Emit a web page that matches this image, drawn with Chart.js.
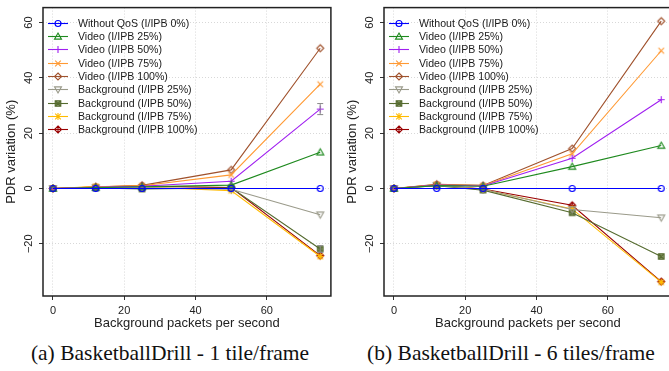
<!DOCTYPE html>
<html>
<head>
<meta charset="utf-8">
<script src="https://cdn.jsdelivr.net/npm/chart.js@4.4.0/dist/chart.umd.min.js"></script>
<style>
  html, body { margin: 0; padding: 0; background: #fff; width: 669px; height: 371px; overflow: hidden; }
  .panel { position: absolute; top: 0; }
  canvas { display: block; }
  .caption {
    position: absolute; top: 341px;
    font-family: 'Liberation Serif', 'Times New Roman', serif;
    font-size: 21.5px; color: #111; white-space: nowrap;
    transform: translateX(-50%);
  }
</style>
</head>
<body>
<div class="panel" style="left:0"><canvas id="chartA" width="335" height="335"></canvas></div>
<div class="panel" style="left:341px"><canvas id="chartB" width="335" height="335"></canvas></div>
<div class="caption" style="left:170px">(a) BasketballDrill - 1 tile/frame</div>
<div class="caption" style="left:511px">(b) BasketballDrill - 6 tiles/frame</div>

<script>
// Shared axis values
const xValues = [0, 12, 25, 50, 75];
const xTicks = [0, 20, 40, 60];
const yTicks = [-20, 0, 20, 40, 60];

const seriesNames = [
    'Without QoS (I/IPB 0%)',
    'Video (I/IPB 25%)',
    'Video (I/IPB 50%)',
    'Video (I/IPB 75%)',
    'Video (I/IPB 100%)',
    'Background (I/IPB 25%)',
    'Background (I/IPB 50%)',
    'Background (I/IPB 75%)',
    'Background (I/IPB 100%)'
];
const seriesColors = ['#0000ff', '#1f8a1f', '#a020f0', '#ff9933', '#a0522d', '#9a9a8a', '#556b2f', '#ffbb00', '#990000'];
const seriesMarkers = ['circle', 'triangle', 'plus', 'cross', 'diamond', 'triangleDown', 'squareX', 'asterisk', 'diamondPlus'];

// (a) BasketballDrill - 1 tile/frame
const noQosA    = [0, 0, 0, 0, 0];
const video25A  = [0, 0.3, 0.6, 1.2, 13.1];
const video50A  = [0, 0.4, 0.8, 2.6, 28.7];
const video75A  = [0, 0.6, 1.0, 4.9, 37.7];
const video100A = [0, 0.5, 1.1, 6.7, 50.7];
const bg25A     = [0, 0.3, 0.3, -0.3, -9.5];
const bg50A     = [0, 0.2, -0.2, 0.2, -21.9];
const bg75A     = [0, 0.7, 0.5, -0.8, -24.6];
const bg100A    = [0, 0.5, 0.9, 0.3, -24.3];
const errVideo50A = [0, 0, 0, 0.3, 2.0];
const errBg50A    = [0, 0, 0, 0.2, 1.2];

// (b) BasketballDrill - 6 tiles/frame
const noQosB    = [0, 0, 0, 0, 0];
const video25B  = [0, 1.0, 0.8, 7.9, 15.5];
const video50B  = [0, 1.2, 0.9, 10.9, 32.1];
const video75B  = [0, 1.3, 1.0, 12.5, 49.8];
const video100B = [0, 1.5, 1.1, 14.4, 60.5];
const bg25B     = [0, 1.1, -0.3, -7.6, -10.6];
const bg50B     = [0, 1.0, -0.6, -8.8, -24.6];
const bg75B     = [0, 1.4, -0.4, -7.4, -33.9];
const bg100B    = [0, 1.2, -0.2, -6.1, -33.7];

const FONT = "'Liberation Sans', Arial, Helvetica, sans-serif";
Chart.defaults.font.family = FONT;

// Draw one R-style plotting symbol
function drawMarker(ctx, kind, cx, cy, r, color) {
    ctx.save();
    ctx.strokeStyle = color;
    ctx.fillStyle = color;
    ctx.lineWidth = 1.1;
    ctx.beginPath();
    const d = r * 0.8;
    if (kind === 'circle') {
        ctx.arc(cx, cy, r * 0.85, 0, Math.PI * 2);
    } else if (kind === 'triangle') {
        ctx.moveTo(cx, cy - r);
        ctx.lineTo(cx + r, cy + r * 0.75);
        ctx.lineTo(cx - r, cy + r * 0.75);
        ctx.closePath();
    } else if (kind === 'triangleDown') {
        ctx.moveTo(cx, cy + r);
        ctx.lineTo(cx + r, cy - r * 0.75);
        ctx.lineTo(cx - r, cy - r * 0.75);
        ctx.closePath();
    } else if (kind === 'plus') {
        ctx.moveTo(cx - r, cy); ctx.lineTo(cx + r, cy);
        ctx.moveTo(cx, cy - r); ctx.lineTo(cx, cy + r);
    } else if (kind === 'cross') {
        ctx.moveTo(cx - d, cy - d); ctx.lineTo(cx + d, cy + d);
        ctx.moveTo(cx - d, cy + d); ctx.lineTo(cx + d, cy - d);
    } else if (kind === 'diamond') {
        ctx.moveTo(cx, cy - r); ctx.lineTo(cx + r, cy);
        ctx.lineTo(cx, cy + r); ctx.lineTo(cx - r, cy);
        ctx.closePath();
    } else if (kind === 'squareX') {
        ctx.globalAlpha = 0.7;
        ctx.fillRect(cx - d, cy - d, 2 * d, 2 * d);
        ctx.globalAlpha = 1;
        ctx.rect(cx - d, cy - d, 2 * d, 2 * d);
        ctx.moveTo(cx - d, cy - d); ctx.lineTo(cx + d, cy + d);
        ctx.moveTo(cx - d, cy + d); ctx.lineTo(cx + d, cy - d);
    } else if (kind === 'asterisk') {
        ctx.moveTo(cx - r, cy); ctx.lineTo(cx + r, cy);
        ctx.moveTo(cx, cy - r); ctx.lineTo(cx, cy + r);
        ctx.moveTo(cx - d, cy - d); ctx.lineTo(cx + d, cy + d);
        ctx.moveTo(cx - d, cy + d); ctx.lineTo(cx + d, cy - d);
    } else if (kind === 'diamondPlus') {
        ctx.moveTo(cx, cy - r); ctx.lineTo(cx + r, cy);
        ctx.lineTo(cx, cy + r); ctx.lineTo(cx - r, cy);
        ctx.closePath();
        ctx.moveTo(cx - r, cy); ctx.lineTo(cx + r, cy);
        ctx.moveTo(cx, cy - r); ctx.lineTo(cx, cy + r);
    }
    ctx.stroke();
    ctx.restore();
}

function markerImage(kind, color) {
    const c = document.createElement('canvas');
    c.width = 11; c.height = 11;
    drawMarker(c.getContext('2d'), kind, 5.5, 5.5, 3.5, color);
    return c;
}

const markerImages = seriesMarkers.map((m, i) => markerImage(m, seriesColors[i]));

function buildDatasets(seriesList, errorMap) {
    return seriesList.map((vals, i) => ({
        label: seriesNames[i],
        data: xValues.map((x, j) => ({ x: x, y: vals[j] })),
        borderColor: seriesColors[i],
        backgroundColor: seriesColors[i],
        borderWidth: 1.1,
        pointStyle: markerImages[i],
        pointRadius: 3,
        pointHoverRadius: 3,
        tension: 0,
        fill: false,
        errors: errorMap[i] || null
    }));
}

// Error bars (gray whiskers) for the series that have them
const errorBarPlugin = {
    id: 'errorBars',
    afterDatasetsDraw(chart) {
        const ctx = chart.ctx;
        const yScale = chart.scales.y;
        chart.data.datasets.forEach((ds, i) => {
            if (!ds.errors) return;
            const meta = chart.getDatasetMeta(i);
            ctx.save();
            ctx.strokeStyle = '#8a8a8a';
            ctx.lineWidth = 1;
            meta.data.forEach((pt, j) => {
                const e = ds.errors[j];
                if (!e || e < 0.5) return;
                const v = ds.data[j].y;
                const yTop = yScale.getPixelForValue(v + e);
                const yBot = yScale.getPixelForValue(v - e);
                ctx.beginPath();
                ctx.moveTo(pt.x, yTop); ctx.lineTo(pt.x, yBot);
                ctx.moveTo(pt.x - 3, yTop); ctx.lineTo(pt.x + 3, yTop);
                ctx.moveTo(pt.x - 3, yBot); ctx.lineTo(pt.x + 3, yBot);
                ctx.stroke();
            });
            ctx.restore();
        });
    }
};

// Legend inside the plot, top-left: short line + marker, then label
const insideLegendPlugin = {
    id: 'insideLegend',
    afterDraw(chart) {
        const a = chart.chartArea;
        const ctx = chart.ctx;
        ctx.save();
        ctx.font = '10.6px ' + FONT;
        ctx.textBaseline = 'middle';
        ctx.textAlign = 'left';
        chart.data.datasets.forEach((ds, i) => {
            const y = Math.round(a.top + 15 + i * 13.35) + 0.5;
            const x0 = a.left + 5;
            ctx.strokeStyle = ds.borderColor;
            ctx.lineWidth = 1.1;
            ctx.beginPath();
            ctx.moveTo(x0, y); ctx.lineTo(x0 + 20, y);
            ctx.stroke();
            drawMarker(ctx, seriesMarkers[i], x0 + 10, y, 3.5, ds.borderColor);
            ctx.fillStyle = '#1a1a1a';
            ctx.fillText(ds.label, a.left + 35, y + 0.5);
        });
        ctx.restore();
    }
};

// Full box around the plot area
const framePlugin = {
    id: 'frame',
    afterDraw(chart) {
        const a = chart.chartArea;
        const ctx = chart.ctx;
        ctx.save();
        ctx.strokeStyle = '#222';
        ctx.lineWidth = 1.5;
        ctx.strokeRect(a.left, a.top, a.right - a.left, a.bottom - a.top);
        ctx.restore();
    }
};

function fmtTick(v) {
    return v < 0 ? '\u2212' + Math.abs(v) : String(v);
}

function makeChart(canvasId, datasets) {
    const ctx = document.getElementById(canvasId).getContext('2d');
    return new Chart(ctx, {
        type: 'line',
        data: { datasets: datasets },
        plugins: [errorBarPlugin, insideLegendPlugin, framePlugin],
        options: {
            responsive: false,
            animation: false,
            layout: { padding: { left: 0, top: 6, right: 4, bottom: 0 } },
            plugins: {
                tooltip: { enabled: false },
                legend: { display: false }
            },
            scales: {
                x: {
                    type: 'linear',
                    min: -2.8,
                    max: 78,
                    afterBuildTicks: s => { s.ticks = xTicks.map(v => ({ value: v })); },
                    afterFit: s => { s.height = 39; },
                    grid: { color: '#d8d8d8', lineWidth: 1, tickColor: '#333', tickLength: 4, tickBorderDash: [] },
                    border: { display: false, dash: [1, 2] },
                    ticks: { color: '#222', font: { size: 11 }, padding: 4, maxRotation: 0, autoSkip: false },
                    title: {
                        display: true, text: 'Background packets per second', color: '#222',
                        font: { size: 13 }, padding: { top: 0, bottom: 4 }
                    }
                },
                y: {
                    type: 'linear',
                    min: -38.9,
                    max: 65.4,
                    afterBuildTicks: s => { s.ticks = yTicks.map(v => ({ value: v })); },
                    afterFit: s => { s.width = 43; },
                    grid: { color: '#d8d8d8', lineWidth: 1, tickColor: '#333', tickLength: 4, tickBorderDash: [] },
                    border: { display: false, dash: [1, 2] },
                    ticks: {
                        color: '#222', font: { size: 11 }, padding: 1,
                        minRotation: 90, maxRotation: 90, crossAlign: 'center',
                        autoSkip: false, callback: v => fmtTick(v)
                    },
                    title: {
                        display: true, text: 'PDR variation (%)', color: '#222',
                        font: { size: 13 }, padding: { top: 4, bottom: 0 }
                    }
                }
            }
        }
    });
}

makeChart('chartA', buildDatasets(
    [noQosA, video25A, video50A, video75A, video100A, bg25A, bg50A, bg75A, bg100A],
    { 2: errVideo50A, 6: errBg50A }
));
makeChart('chartB', buildDatasets(
    [noQosB, video25B, video50B, video75B, video100B, bg25B, bg50B, bg75B, bg100B],
    {}
));
</script>
</body>
</html>
